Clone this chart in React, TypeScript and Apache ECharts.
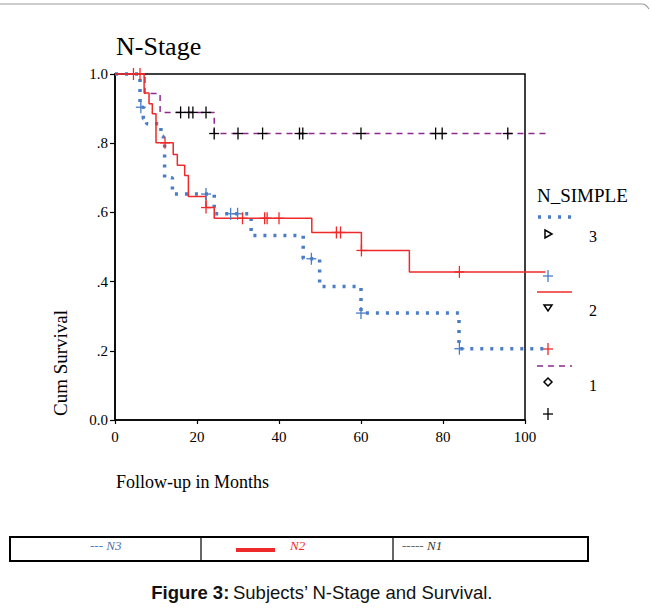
import React, { useEffect, useRef } from "react";
import * as echarts from "echarts";

// Kaplan-Meier step data (months, cumulative survival)
const n3Times = [0, 6.1, 6.9, 7.7, 11.2, 11.8, 12.1, 14, 24.2, 33.2, 45.9, 49.9, 60, 83.9, 105];
const n3Surv = [1.0, 0.904, 0.871, 0.856, 0.82, 0.8, 0.7, 0.653, 0.596, 0.533, 0.466, 0.386, 0.309, 0.206, 0.206];
const n3CensorT = [6.3, 22.2, 28.2, 29.9, 47.9, 60, 84];
const n3CensorS = [0.904, 0.653, 0.596, 0.596, 0.466, 0.309, 0.206];

const n2Times = [0, 7.1, 8.3, 9.1, 10, 14.2, 15.2, 17, 17.9, 22.2, 24.2, 48, 60.1, 71.8, 105];
const n2Surv = [1.0, 0.945, 0.914, 0.885, 0.801, 0.767, 0.736, 0.707, 0.646, 0.614, 0.583, 0.542, 0.49, 0.428, 0.428];
const n2CensorT = [4.5, 6.1, 12.2, 22.2, 31.1, 36.5, 37.1, 40, 54, 55, 60.1, 84];
const n2CensorS = [1.0, 1.0, 0.801, 0.614, 0.583, 0.583, 0.583, 0.583, 0.542, 0.542, 0.49, 0.428];

const n1Times = [0, 7.3, 11, 24.2, 105];
const n1Surv = [1.0, 0.944, 0.889, 0.828, 0.828];
const n1CensorT = [16, 18, 19, 22.2, 24.2, 30, 36, 45, 45.8, 60, 78.2, 79.8, 95.8];
const n1CensorS = [0.889, 0.889, 0.889, 0.889, 0.828, 0.828, 0.828, 0.828, 0.828, 0.828, 0.828, 0.828, 0.828];

const xTicks = [0, 20, 40, 60, 80, 100];
const yTickLabels: Record<string, string> = { "0": "0.0", "0.2": ".2", "0.4": ".4", "0.6": ".6", "0.8": ".8", "1": "1.0" };

// data axis runs past the framed axis (curves extend beyond 100 months)
const X_AXIS_MAX = 100;
const X_DATA_MAX = 106;

const BLUE = "#4a7cc7";
const RED = "#ee2a2a";
const PURPLE = "#8e2a8e";
const SERIF = "'Liberation Serif', 'Times New Roman', serif";
const SANS = "'Liberation Sans', Arial, sans-serif";

const GRID_LEFT = 115;
const GRID_TOP = 74;
const GRID_W = 410;
const GRID_H = 346;

function zip(a: number[], b: number[]) {
  return a.map((t, i) => [t, b[i]]);
}

function censorSeries(name: string, t: number[], s: number[], color: string) {
  return {
    type: "custom",
    name,
    silent: true,
    z: 5,
    clip: false,
    xAxisIndex: 0,
    yAxisIndex: 0,
    encode: { x: 0, y: 1 },
    data: zip(t, s),
    renderItem: (_params: any, api: any) => {
      const p = api.coord([api.value(0), api.value(1)]);
      return {
        type: "group",
        children: [
          { type: "line", shape: { x1: p[0] - 5, y1: p[1], x2: p[0] + 5, y2: p[1] }, style: { stroke: color, lineWidth: 1.3 } },
          { type: "line", shape: { x1: p[0], y1: p[1] - 6, x2: p[0], y2: p[1] + 6 }, style: { stroke: color, lineWidth: 1.3 } },
        ],
      };
    },
  };
}

function plus(x: number, y: number, color: string) {
  return [
    { type: "line", shape: { x1: x - 5, y1: y, x2: x + 5, y2: y }, style: { stroke: color, lineWidth: 1.3 } },
    { type: "line", shape: { x1: x, y1: y - 6, x2: x, y2: y + 6 }, style: { stroke: color, lineWidth: 1.3 } },
  ];
}

export default function App() {
  const ref = useRef<HTMLDivElement>(null);
  useEffect(() => {
    if (!ref.current) return;
    const chart = echarts.init(ref.current, undefined, { renderer: "svg" });
    const option: any = {
      animation: false,
      backgroundColor: "#fff",
      title: {
        text: "N-Stage",
        left: 111,
        top: 28,
        textStyle: { fontFamily: SERIF, fontSize: 26, fontWeight: "normal", color: "#000" },
      },
      grid: [
        {
          // data grid (same scale as frame grid, extended to the right)
          left: GRID_LEFT,
          top: GRID_TOP,
          width: (GRID_W * X_DATA_MAX) / X_AXIS_MAX,
          height: GRID_H,
          show: false,
        },
        {
          // framed axes
          left: GRID_LEFT,
          top: GRID_TOP,
          width: GRID_W,
          height: GRID_H,
          show: true,
          borderColor: "#000",
          borderWidth: 1.5,
          backgroundColor: "transparent",
        },
      ],
      xAxis: [
        {
          gridIndex: 0,
          type: "value",
          min: 0,
          max: X_DATA_MAX,
          show: false,
        },
        {
          gridIndex: 1,
          type: "value",
          min: 0,
          max: X_AXIS_MAX,
          interval: 20,
          axisLine: { show: true, lineStyle: { color: "#000", width: 1.5 } },
          axisTick: { show: true, length: 4, lineStyle: { color: "#000", width: 1.2 } },
          axisLabel: {
            fontFamily: SERIF,
            fontSize: 15,
            color: "#000",
            margin: 9,
            formatter: (v: number) => (xTicks.includes(v) ? String(v) : ""),
          },
          splitLine: { show: false },
        },
      ],
      yAxis: [
        {
          gridIndex: 0,
          type: "value",
          min: 0,
          max: 1,
          show: false,
        },
        {
          gridIndex: 1,
          type: "value",
          min: 0,
          max: 1,
          interval: 0.2,
          axisLine: { show: true, lineStyle: { color: "#000", width: 1.5 } },
          axisTick: { show: true, length: 5, lineStyle: { color: "#000", width: 1.2 } },
          axisLabel: {
            fontFamily: SERIF,
            fontSize: 15,
            color: "#000",
            margin: 7,
            formatter: (v: number) => yTickLabels[String(Math.round(v * 10) / 10)] ?? "",
          },
          splitLine: { show: false },
        },
      ],
      series: [
        {
          type: "line",
          name: "3",
          xAxisIndex: 0,
          yAxisIndex: 0,
          step: "end",
          clip: false,
          symbol: "none",
          data: zip(n3Times, n3Surv),
          lineStyle: { color: BLUE, width: 3.5, type: [3, 7] },
          z: 3,
        },
        {
          type: "line",
          name: "2",
          xAxisIndex: 0,
          yAxisIndex: 0,
          step: "end",
          clip: false,
          symbol: "none",
          data: zip(n2Times, n2Surv),
          lineStyle: { color: RED, width: 1.5, type: "solid" },
          z: 4,
        },
        {
          type: "line",
          name: "1",
          xAxisIndex: 0,
          yAxisIndex: 0,
          step: "end",
          clip: false,
          symbol: "none",
          data: zip(n1Times, n1Surv),
          lineStyle: { color: PURPLE, width: 1.5, type: [6, 5] },
          z: 3,
        },
        censorSeries("3 censored", n3CensorT, n3CensorS, BLUE),
        censorSeries("2 censored", n2CensorT, n2CensorS, RED),
        censorSeries("1 censored", n1CensorT, n1CensorS, "#000"),
      ],
      graphic: [
        // top frame line
        { type: "line", shape: { x1: 0, y1: 4, x2: 642, y2: 4 }, style: { stroke: "#999", lineWidth: 1.2 } },
        { type: "bezierCurve", shape: { x1: 642, y1: 4, cpx1: 646, cpy1: 4, x2: 649, y2: 9 }, style: { stroke: "#999", lineWidth: 1.2, fill: "none" } },
        // axis titles
        {
          type: "text",
          x: 60,
          y: 363,
          rotation: Math.PI / 2,
          style: { text: "Cum Survival", font: `19px ${SERIF}`, fill: "#000", textAlign: "center", textVerticalAlign: "middle" },
        },
        {
          type: "text",
          x: 116,
          y: 482,
          style: { text: "Follow-up in Months", font: `18px ${SERIF}`, fill: "#000", textAlign: "left", textVerticalAlign: "middle" },
        },
        // legend
        {
          type: "text",
          x: 537,
          y: 195,
          style: { text: "N_SIMPLE", font: `19px ${SERIF}`, fill: "#000", textAlign: "left", textVerticalAlign: "middle" },
        },
        { type: "line", shape: { x1: 538, y1: 217, x2: 573, y2: 217 }, style: { stroke: BLUE, lineWidth: 3.5, lineDash: [3, 7] } },
        { type: "polygon", shape: { points: [[545, 230], [552, 234], [545, 238]] }, style: { stroke: "#000", lineWidth: 1.5, fill: "none" } },
        { type: "text", x: 593, y: 236, style: { text: "3", font: `16px ${SERIF}`, fill: "#000", textAlign: "center", textVerticalAlign: "middle" } },
        ...plus(548, 276, BLUE),
        { type: "line", shape: { x1: 537, y1: 292, x2: 572, y2: 292 }, style: { stroke: RED, lineWidth: 1.5 } },
        { type: "polygon", shape: { points: [[544, 305], [552, 305], [548, 311]] }, style: { stroke: "#000", lineWidth: 1.5, fill: "none" } },
        { type: "text", x: 593, y: 310, style: { text: "2", font: `16px ${SERIF}`, fill: "#000", textAlign: "center", textVerticalAlign: "middle" } },
        ...plus(548, 349, RED),
        { type: "line", shape: { x1: 537, y1: 366, x2: 572, y2: 366 }, style: { stroke: PURPLE, lineWidth: 1.5, lineDash: [6, 5] } },
        { type: "polygon", shape: { points: [[548, 378], [552, 382], [548, 386], [544, 382]] }, style: { stroke: "#000", lineWidth: 1.5, fill: "none" } },
        { type: "text", x: 593, y: 385, style: { text: "1", font: `16px ${SERIF}`, fill: "#000", textAlign: "center", textVerticalAlign: "middle" } },
        ...plus(548, 414, "#000"),
        // bottom table
        { type: "rect", shape: { x: 10, y: 537, width: 578, height: 24 }, style: { stroke: "#000", lineWidth: 2, fill: "none" } },
        { type: "line", shape: { x1: 201, y1: 537, x2: 201, y2: 561 }, style: { stroke: "#000", lineWidth: 1.2 } },
        { type: "line", shape: { x1: 393, y1: 537, x2: 393, y2: 561 }, style: { stroke: "#000", lineWidth: 1.2 } },
        {
          type: "text",
          x: 90,
          y: 545,
          style: {
            text: "{d|---} {n|N3}",
            textAlign: "left",
            textVerticalAlign: "middle",
            rich: {
              d: { fontFamily: SERIF, fontSize: 13, fill: BLUE, fontStyle: "italic" },
              n: { fontFamily: SERIF, fontSize: 13, fill: "#4f6fa0", fontStyle: "italic" },
            },
          },
        },
        { type: "rect", shape: { x: 236, y: 548, width: 39, height: 4 }, style: { fill: RED } },
        {
          type: "text",
          x: 290,
          y: 545,
          style: { text: "N2", font: `italic 13px ${SERIF}`, fill: RED, textAlign: "left", textVerticalAlign: "middle" },
        },
        {
          type: "text",
          x: 402,
          y: 545,
          style: {
            text: "{d|-----} {n|N1}",
            textAlign: "left",
            textVerticalAlign: "middle",
            rich: {
              d: { fontFamily: SERIF, fontSize: 13, fill: "#666", fontStyle: "italic" },
              n: { fontFamily: SERIF, fontSize: 13, fill: "#333", fontStyle: "italic" },
            },
          },
        },
        // caption
        {
          type: "text",
          x: 322,
          y: 592,
          style: {
            text: "{b|Figure 3:} {r|Subjects\u2019 N-Stage and Survival.}",
            textAlign: "center",
            textVerticalAlign: "middle",
            rich: {
              b: { fontFamily: SANS, fontSize: 18.5, fontWeight: "bold", fill: "#111" },
              r: { fontFamily: SANS, fontSize: 18.5, fill: "#111" },
            },
          },
        },
      ],
    };
    chart.setOption(option);
    return () => chart.dispose();
  }, []);
  return (
    <div
      ref={ref}
      style={{ position: "fixed", left: 0, top: 0, width: 651, height: 609, background: "#fff" }}
    />
  );
}
